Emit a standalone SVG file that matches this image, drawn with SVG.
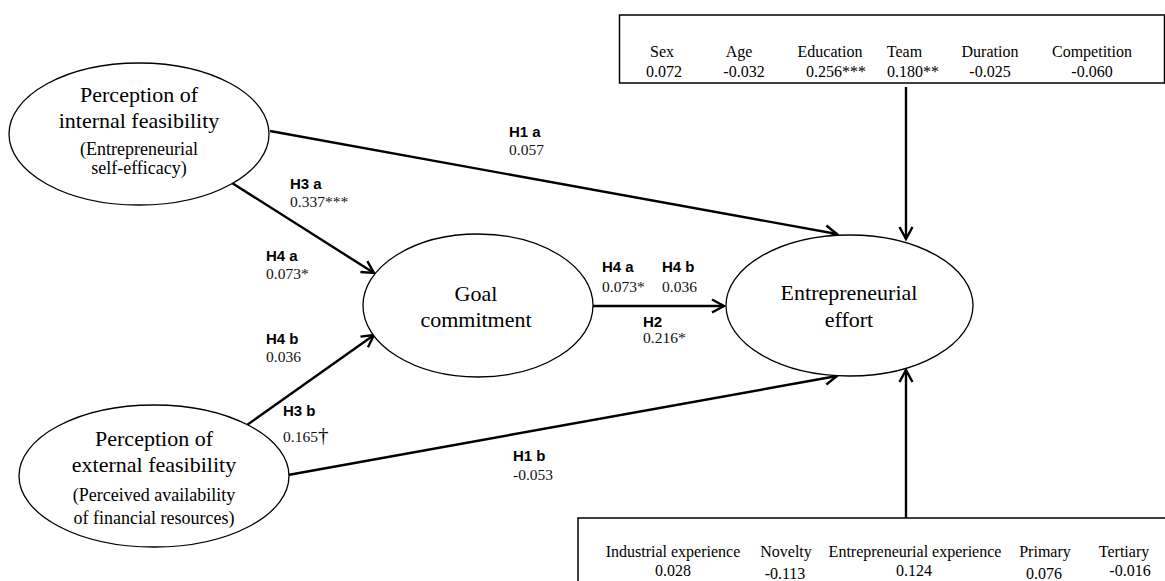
<svg xmlns="http://www.w3.org/2000/svg" width="1165" height="581" viewBox="0 0 1165 581">
<defs>
<style>
.node{fill:#fff;stroke:#000;stroke-width:1.3}
.box{fill:#fff;stroke:#000;stroke-width:1.5}
.t{font-family:"Liberation Serif","Times New Roman",serif;fill:#000;text-anchor:middle}
.big{font-size:22px}
.sub{font-size:18px}
.bx{font-size:16px}
.lbl{font-family:"Liberation Sans",Arial,sans-serif;font-weight:bold;font-size:15px;fill:#000}
.val{font-family:"Liberation Serif","Times New Roman",serif;font-size:15.5px;fill:#111}
.edge{stroke:#000;stroke-width:2.4;fill:none;marker-end:url(#arr)}
</style>
<marker id="arr" viewBox="-14 -8 16 16" markerWidth="16" markerHeight="16" refX="0" refY="0" orient="auto" markerUnits="userSpaceOnUse">
<path d="M-12,-6.5 L0,0 L-12,6.5" fill="none" stroke="#000" stroke-width="2.4"/>
</marker>
</defs>
<rect width="1165" height="581" fill="#fff"/>

<g id="connectors">
<line class="edge" x1="270" y1="131" x2="837" y2="234"/>
<line class="edge" x1="232" y1="183" x2="374" y2="273"/>
<line class="edge" x1="247" y1="425" x2="374" y2="335"/>
<line class="edge" x1="288" y1="475" x2="837" y2="376"/>
<line class="edge" x1="593" y1="306" x2="724" y2="306"/>
<line class="edge" x1="906" y1="87" x2="906" y2="239"/>
<line class="edge" x1="906" y1="518" x2="906" y2="370"/>
</g>

<g id="internal">
<ellipse class="node" cx="139" cy="134" rx="130" ry="71"/>
<text class="t big" x="139" y="102">Perception of</text>
<text class="t big" x="139" y="128">internal feasibility</text>
<text class="t sub" x="139" y="155">(Entrepreneurial</text>
<text class="t sub" x="139" y="174">self-efficacy)</text>
</g>

<g id="external">
<ellipse class="node" cx="154" cy="476" rx="135" ry="71"/>
<text class="t big" x="154" y="446">Perception of</text>
<text class="t big" x="154" y="472">external feasibility</text>
<text class="t sub" x="154" y="501">(Perceived availability</text>
<text class="t sub" x="154" y="524">of financial resources)</text>
</g>

<g id="goal">
<ellipse class="node" cx="478" cy="305.5" rx="115" ry="71.5"/>
<text class="t big" x="476" y="301">Goal</text>
<text class="t big" x="476" y="327">commitment</text>
</g>

<g id="effort">
<ellipse class="node" cx="849.5" cy="305.5" rx="123.5" ry="70.5"/>
<text class="t big" x="849" y="300">Entrepreneurial</text>
<text class="t big" x="849" y="327">effort</text>
</g>

<g id="controls-top">
<rect class="box" x="619.5" y="15" width="545" height="68"/>
<text class="t bx" x="662" y="57">Sex</text>
<text class="t bx" x="739" y="57">Age</text>
<text class="t bx" x="830" y="57">Education</text>
<text class="t bx" x="904.5" y="57">Team</text>
<text class="t bx" x="990" y="57">Duration</text>
<text class="t bx" x="1092" y="57">Competition</text>
<text class="t bx" x="664" y="77">0.072</text>
<text class="t bx" x="744" y="77">-0.032</text>
<text class="t bx" x="836" y="77">0.256***</text>
<text class="t bx" x="913" y="77">0.180**</text>
<text class="t bx" x="990" y="77">-0.025</text>
<text class="t bx" x="1092" y="77">-0.060</text>
</g>

<g id="controls-bottom">
<rect class="box" x="578" y="518" width="600" height="80"/>
<text class="t bx" x="673" y="557">Industrial experience</text>
<text class="t bx" x="786" y="557">Novelty</text>
<text class="t bx" x="915" y="557">Entrepreneurial experience</text>
<text class="t bx" x="1045" y="557">Primary</text>
<text class="t bx" x="1124" y="557">Tertiary</text>
<text class="t bx" x="673" y="576">0.028</text>
<text class="t bx" x="785" y="578.5">-0.113</text>
<text class="t bx" x="914" y="576">0.124</text>
<text class="t bx" x="1044" y="578.5">0.076</text>
<text class="t bx" x="1130" y="576">-0.016</text>
</g>

<g id="labels">
<text class="lbl" x="509" y="137">H1 a</text>
<text class="val" x="509" y="155">0.057</text>
<text class="lbl" x="290" y="189">H3 a</text>
<text class="val" x="290" y="207">0.337***</text>
<text class="lbl" x="266" y="261">H4 a</text>
<text class="val" x="266" y="279">0.073*</text>
<text class="lbl" x="266" y="344">H4 b</text>
<text class="val" x="266" y="362">0.036</text>
<text class="lbl" x="283" y="416">H3 b</text>
<text class="val" x="283" y="442">0.165<tspan font-size="21">†</tspan></text>
<text class="lbl" x="513" y="461">H1 b</text>
<text class="val" x="513" y="480">-0.053</text>
<text class="lbl" x="602" y="272">H4 a</text>
<text class="val" x="602" y="292">0.073*</text>
<text class="lbl" x="662" y="272">H4 b</text>
<text class="val" x="662" y="292">0.036</text>
<text class="lbl" x="643" y="327">H2</text>
<text class="val" x="643" y="343">0.216*</text>
</g>
</svg>
